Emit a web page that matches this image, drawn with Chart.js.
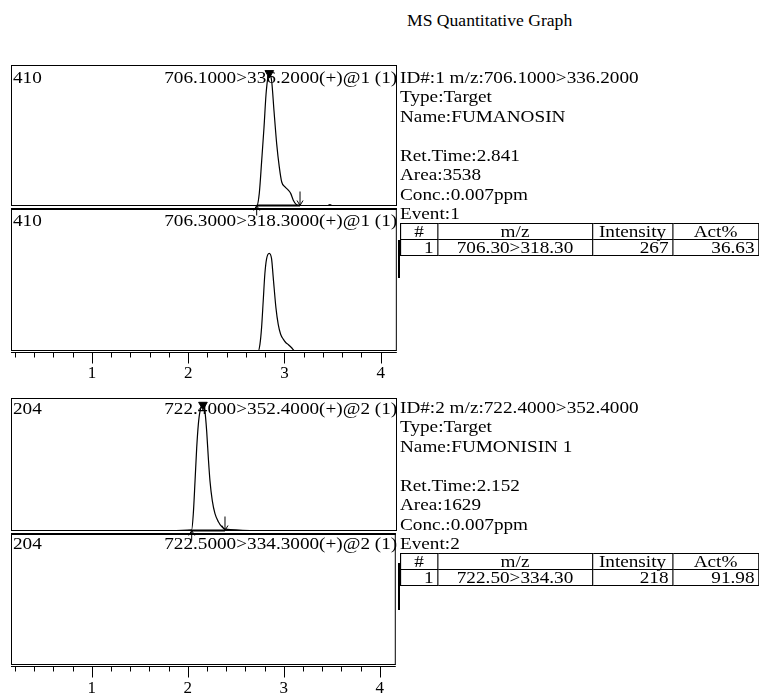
<!DOCTYPE html>
<html>
<head>
<meta charset="utf-8">
<script src="https://cdn.jsdelivr.net/npm/chart.js@4"></script>
<style>
body { margin:0; width:759px; height:695px; position:relative; overflow:hidden; background:#fff;
       font-family:"Liberation Serif","Times New Roman",serif; color:#000; }
canvas { position:absolute; }
.t { position:absolute; font-size:17px; line-height:20px; white-space:nowrap;
     transform:scaleX(1.13); transform-origin:left top; }
.t.r { transform-origin:right top; text-align:right; }
.info { position:absolute; font-size:17px; line-height:19.5px; white-space:pre;
        transform:scaleX(1.13); transform-origin:left top; }
table { position:absolute; border-collapse:collapse; table-layout:fixed; width:317px;
        transform:scaleX(1.13); transform-origin:left top; font-size:17px; }
td { border:1px solid #000; height:15px; line-height:15px; padding:0 3px; white-space:nowrap; overflow:visible; }
td.c { text-align:center; } td.rt { text-align:right; }
.brk { position:absolute; width:0; border-left:2px solid #000; }
</style>
</head>
<body>
<div class="t" style="left:407px;top:10.6px;font-size:16px;transform:scaleX(1.1)">MS Quantitative Graph</div>
<div id="root"></div>

<script>
// --- DATOS (tiempo en min, intensidad) ---

// ID#1 quan 706.1000>336.2000
const q1Time = [0.16, 1.0, 2.0, 2.60, 2.710, 2.737, 2.762, 2.786, 2.807, 2.825, 2.841, 2.866, 2.890, 2.918,
                2.945, 2.970, 3.004, 3.038, 3.063, 3.090, 3.126, 3.160, 3.30, 3.44, 3.47, 3.50, 3.70, 4.17];
const q1Int  = [0, 0, 0, 0, 0, 39, 140, 242, 344, 394, 410, 384, 293, 191,
                120, 74, 59, 49, 39, 18, 3, 0, 0, 0, 4, 0, 0, 0];
// ID#1 ref 706.3000>318.3000
const r1Time = [0.16, 2.0, 2.727, 2.745, 2.762, 2.779, 2.796, 2.814, 2.841, 2.866, 2.883, 2.911,
                2.935, 2.960, 2.987, 3.015, 3.038, 3.074, 3.108, 4.17];
const r1Int  = [0, 0, 0, 20, 71, 152, 234, 280, 297, 280, 224, 132, 81, 51, 36, 25, 20, 10, 0, 0];
// ID#2 quan 722.4000>352.4000
const q2Time = [0.16, 1.5, 2.035, 2.052, 2.070, 2.087, 2.104, 2.121, 2.152, 2.173, 2.191, 2.208,
                2.225, 2.249, 2.277, 2.312, 2.347, 2.381, 3.0, 4.17];
const q2Int  = [0, 0, 2, 28, 81, 134, 172, 193, 204, 193, 161, 118, 81, 49, 28, 15, 7, 3, 0, 0];
// ID#2 ref 722.5000>334.3000
const r2Time = [0.16, 4.17];
const r2Int  = [0, 0];

// integración: inicio, fin, tiempo de retención, altura
const peak1 = { start: 2.710, end: 3.160, rt: 2.841, top: 410 };
const peak2 = { start: 2.035, end: 2.381, rt: 2.152, top: 204 };

const xMajorTicks = [1, 2, 3, 4];
const xMinorTicks = [0.2, 0.4, 0.6, 0.8, 1.2, 1.4, 1.6, 1.8, 2.2, 2.4, 2.6, 2.8,
                     3.2, 3.4, 3.6, 3.8, 4.0];
const X_MIN = 0.159, X_MAX = 4.167;

// --- PLUGIN: marco, marcas de integración, eje ---
const framePlugin = {
    id: 'frame',
    afterDatasetsDraw(chart, args, o) {
        const { ctx, chartArea: a, scales: { x, y } } = chart;
        ctx.save();
        ctx.strokeStyle = '#000';
        ctx.lineWidth = 1;
        ctx.strokeRect(a.left + 0.5, a.top + 0.5, a.right - a.left - 1, a.bottom - a.top - 1);
        if (o.thickTop) {
            ctx.lineWidth = 2;
            ctx.beginPath(); ctx.moveTo(a.left, a.top + 1); ctx.lineTo(a.right, a.top + 1); ctx.stroke();
        }
        if (o.peak) {
            const x0 = x.getPixelForValue(o.peak.start), x1 = x.getPixelForValue(o.peak.end);
            const yb = y.getPixelForValue(0) - 0.5;
            ctx.lineWidth = 2;
            ctx.beginPath(); ctx.moveTo(x0, yb); ctx.lineTo(x1, yb); ctx.stroke();
            ctx.lineWidth = 1;
            ctx.beginPath();
            ctx.moveTo(x0, yb + 10); ctx.lineTo(x0, yb);
            ctx.moveTo(x0 - 3, yb + 5); ctx.lineTo(x0, yb); ctx.lineTo(x0 + 3, yb + 5);
            ctx.moveTo(x1, yb - 14); ctx.lineTo(x1, yb);
            ctx.moveTo(x1 - 3, yb - 5); ctx.lineTo(x1, yb); ctx.lineTo(x1 + 3, yb - 5);
            ctx.stroke();
        }
        if (o.axis) {
            const ya = a.bottom + 1.5;
            ctx.lineWidth = 1;
            ctx.beginPath(); ctx.moveTo(a.left, ya); ctx.lineTo(a.right, ya);
            xMinorTicks.forEach(v => { const px = Math.round(x.getPixelForValue(v)) + 0.5; ctx.moveTo(px, ya); ctx.lineTo(px, ya + 5); });
            xMajorTicks.forEach(v => { const px = Math.round(x.getPixelForValue(v)) + 0.5; ctx.moveTo(px, ya); ctx.lineTo(px, ya + 11); });
            ctx.stroke();
        }
        ctx.restore();
    }
};

function toPts(ts, vs) { return ts.map((t, i) => ({ x: t, y: vs[i] })); }

function makePanel({ top, plotH, axisH = 0, padBottom = 0, yMax, time, inten, peak, thickTop, axisPad }) {
    const cv = document.createElement('canvas');
    const h = plotH + axisH + padBottom;
    cv.width = 386; cv.height = h;
    cv.style.left = '11px'; cv.style.top = top + 'px';
    document.getElementById('root').appendChild(cv);

    const datasets = [{
        data: toPts(time, inten),
        borderColor: '#000', borderWidth: 1.2, pointRadius: 0,
        tension: 0.4, cubicInterpolationMode: 'monotone'
    }];
    if (peak) {
        datasets.push({
            data: [{ x: peak.rt, y: peak.top }],
            showLine: false, pointStyle: 'triangle', pointRotation: 180,
            pointRadius: 5, backgroundColor: '#000', borderColor: '#000'
        });
    }

    return new Chart(cv, {
        type: 'line',
        data: { datasets },
        options: {
            responsive: false, animation: false, devicePixelRatio: 1,
            layout: { autoPadding: false, padding: { left: 0, right: 0, top: 0, bottom: padBottom } },
            scales: {
                x: {
                    type: 'linear', min: X_MIN, max: X_MAX, display: axisH > 0,
                    afterBuildTicks: s => { s.ticks = xMajorTicks.map(v => ({ value: v })); },
                    afterFit: s => { s.height = axisH; },
                    grid: { display: false, drawTicks: false },
                    border: { display: false },
                    ticks: { padding: axisPad || 0, color: '#000', maxRotation: 0, autoSkip: false,
                             font: { family: 'Liberation Serif', size: 17 } }
                },
                y: { display: false, min: 0, max: yMax }
            },
            plugins: {
                legend: { display: false }, tooltip: { enabled: false },
                frame: { peak, thickTop, axis: axisH > 0 }
            }
        },
        plugins: [framePlugin]
    });
}

// orden: paneles inferiores primero para que las flechas de arriba queden encima
makePanel({ top: 208, plotH: 143, axisH: 40, axisPad: 12, yMax: 435, time: r1Time, inten: r1Int, thickTop: true });
makePanel({ top: 65, plotH: 141, padBottom: 10, yMax: 435, time: q1Time, inten: q1Int, peak: peak1 });
makePanel({ top: 533, plotH: 132, axisH: 30, axisPad: 13, yMax: 215, time: r2Time, inten: r2Int, thickTop: true });
makePanel({ top: 398, plotH: 133, padBottom: 10, yMax: 215, time: q2Time, inten: q2Int, peak: peak2 });

// --- TEXTOS ---
const root = document.getElementById('root');
function addText(html) { root.insertAdjacentHTML('beforeend', html); }

function infoBlock(top, lines, row) {
    addText(`<div class="info" style="left:400px;top:${top}px">${lines.join('\n')}</div>`);
    addText(`<table style="left:400px;top:${top + 155.5}px">
      <colgroup><col style="width:32.7px"><col style="width:137.2px"><col style="width:70.8px"><col style="width:76.1px"></colgroup>
      <tr><td class="c">#</td><td class="c">m/z</td><td class="c">Intensity</td><td class="c">Act%</td></tr>
      <tr><td class="rt">${row[0]}</td><td class="c">${row[1]}</td><td class="rt">${row[2]}</td><td class="rt">${row[3]}</td></tr>
    </table>`);
}

addText('<div class="t" style="left:12.5px;top:68.3px">410</div>');
addText('<div class="t r" style="right:362px;top:68.3px">706.1000&gt;336.2000(+)@1 (1)</div>');
addText('<div class="t" style="left:12.5px;top:210.8px">410</div>');
addText('<div class="t r" style="right:362px;top:210.8px">706.3000&gt;318.3000(+)@1 (1)</div>');
addText('<div class="t" style="left:12.5px;top:398.8px">204</div>');
addText('<div class="t r" style="right:362px;top:398.8px">722.4000&gt;352.4000(+)@2 (1)</div>');
addText('<div class="t" style="left:12.5px;top:533.8px">204</div>');
addText('<div class="t r" style="right:362px;top:533.8px">722.5000&gt;334.3000(+)@2 (1)</div>');

infoBlock(67.5, ['ID#:1 m/z:706.1000&gt;336.2000', 'Type:Target', 'Name:FUMANOSIN', '',
                 'Ret.Time:2.841', 'Area:3538', 'Conc.:0.007ppm', 'Event:1'],
          ['1', '706.30&gt;318.30', '267', '36.63']);
infoBlock(397.5, ['ID#:2 m/z:722.4000&gt;352.4000', 'Type:Target', 'Name:FUMONISIN 1', '',
                  'Ret.Time:2.152', 'Area:1629', 'Conc.:0.007ppm', 'Event:2'],
          ['1', '722.50&gt;334.30', '218', '91.98']);

addText('<div class="brk" style="left:398px;top:240px;height:38px"></div>');
addText('<div class="brk" style="left:398px;top:563px;height:47px"></div>');
</script>
</body>
</html>
